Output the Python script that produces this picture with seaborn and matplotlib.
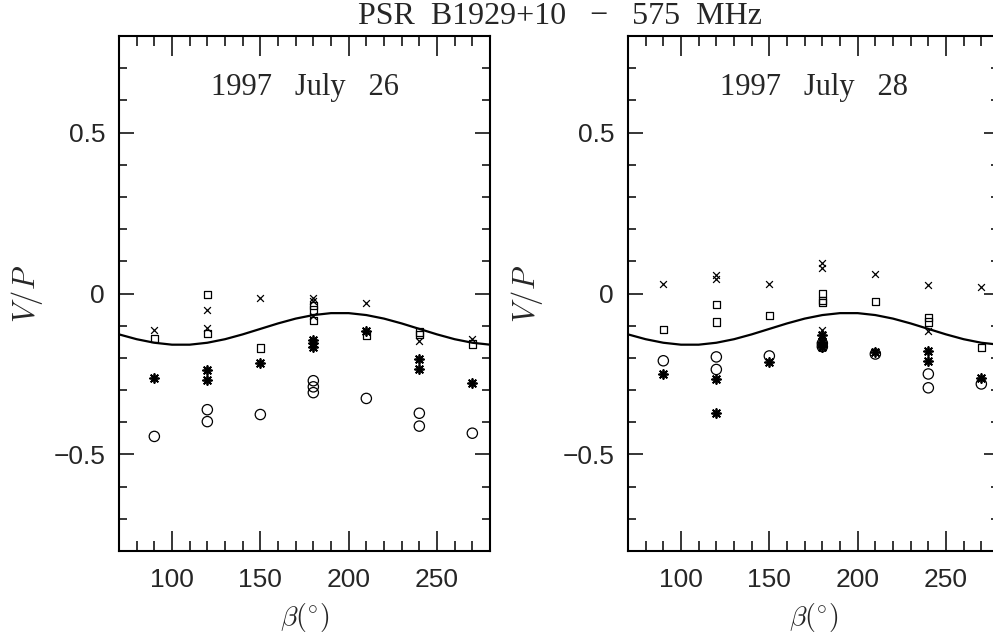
import matplotlib
matplotlib.use('Agg')
import matplotlib.pyplot as plt
from matplotlib.ticker import MultipleLocator
import seaborn as sns

# ── Data ──────────────────────────────────────────────────────────────────
# model curve, same in both panels
beta_curve = [70, 80, 90, 100, 110, 120, 130, 140, 150, 160, 170,
              180, 190, 200, 210, 220, 230, 240, 250, 260, 270, 280]
vp_curve = [-0.127, -0.142, -0.153, -0.159, -0.159, -0.153, -0.142, -0.127,
            -0.110, -0.093, -0.078, -0.067, -0.061, -0.061, -0.067, -0.078,
            -0.093, -0.110, -0.127, -0.142, -0.153, -0.159]

# 1997 July 26
jul26_cross_b = [90, 120, 120, 150, 180, 180, 180, 210, 240, 270]
jul26_cross_v = [-0.113, -0.050, -0.107, -0.013, -0.015, -0.024, -0.069, -0.029, -0.149, -0.141]
jul26_square_b = [90, 120, 120, 150, 180, 180, 180, 210, 240, 240, 270]
jul26_square_v = [-0.140, -0.004, -0.125, -0.169, -0.037, -0.051, -0.084, -0.129, -0.120, -0.128, -0.157]
jul26_star_b = [90, 120, 120, 150, 180, 180, 180, 210, 240, 240, 270]
jul26_star_v = [-0.263, -0.238, -0.270, -0.217, -0.146, -0.155, -0.165, -0.117, -0.204, -0.235, -0.278]
jul26_circle_b = [90, 120, 120, 150, 180, 180, 180, 210, 240, 240, 270]
jul26_circle_v = [-0.444, -0.361, -0.398, -0.376, -0.271, -0.290, -0.308, -0.326, -0.372, -0.412, -0.434]

# 1997 July 28
jul28_cross_b = [90, 120, 120, 150, 180, 180, 180, 210, 240, 240, 270]
jul28_cross_v = [0.028, 0.059, 0.044, 0.028, 0.094, 0.080, -0.113, 0.060, 0.027, -0.115, 0.021]
jul28_square_b = [90, 120, 120, 150, 180, 180, 180, 210, 240, 240, 270]
jul28_square_v = [-0.112, -0.035, -0.089, -0.069, 0.001, -0.022, -0.027, -0.025, -0.074, -0.089, -0.168]
jul28_star_b = [90, 120, 120, 150, 180, 180, 180, 210, 240, 240, 270]
jul28_star_v = [-0.250, -0.266, -0.371, -0.214, -0.129, -0.150, -0.165, -0.181, -0.178, -0.209, -0.261]
jul28_circle_b = [90, 120, 120, 150, 180, 180, 210, 240, 240, 270]
jul28_circle_v = [-0.209, -0.197, -0.236, -0.194, -0.155, -0.165, -0.188, -0.250, -0.293, -0.281]

ytick_vals = [-0.5, 0, 0.5]
ytick_labels = ['\u22120.5', '0', '0.5']
xtick_vals = [100, 150, 200, 250]
xtick_labels = ['100', '150', '200', '250']

# ── Style ─────────────────────────────────────────────────────────────────
sns.set_theme(style="ticks")
plt.rcParams['font.family'] = ['Liberation Sans', 'DejaVu Sans']
plt.rcParams['mathtext.fontset'] = 'cm'
plt.rcParams['axes.linewidth'] = 1.5

fig = plt.figure(figsize=(9.93, 6.38), dpi=100)
W, H = 993, 638
ax1 = fig.add_axes([119 / W, (H - 551) / H, 371 / W, 515 / H])
ax2 = fig.add_axes([628 / W, (H - 551) / H, 371 / W, 515 / H])


def draw_panel(ax, label, ylab_x, cross, square, star, circle):
    sns.lineplot(x=beta_curve, y=vp_curve, color='black', linewidth=1.6, ax=ax)
    sns.scatterplot(x=cross[0], y=cross[1], marker='x', s=24, color='black',
                    linewidth=0.9, ax=ax)
    sns.scatterplot(x=square[0], y=square[1], marker='s', s=28, facecolor='none',
                    edgecolor='black', linewidth=0.9, ax=ax)
    sns.scatterplot(x=star[0], y=star[1], marker=(8, 2, 0), s=42, color='black',
                    linewidth=1.3, ax=ax)
    sns.scatterplot(x=circle[0], y=circle[1], marker='o', s=55, facecolor='none',
                    edgecolor='black', linewidth=0.9, ax=ax)

    ax.set_xlim(70, 280)
    ax.set_ylim(-0.8, 0.8)
    ax.set_xticks(xtick_vals)
    ax.set_xticklabels(xtick_labels)
    ax.set_yticks(ytick_vals)
    ax.set_yticklabels(ytick_labels)
    ax.xaxis.set_minor_locator(MultipleLocator(10))
    ax.yaxis.set_minor_locator(MultipleLocator(0.1))
    ax.tick_params(which='both', direction='in', top=True, right=True,
                   width=1.1, color='black', labelsize=19)
    ax.tick_params(axis='x', which='major', length=14.5, pad=12)
    ax.tick_params(axis='x', which='minor', length=7.5)
    ax.tick_params(axis='y', which='major', length=11, pad=10)
    ax.tick_params(axis='y', which='minor', length=5.5)
    for sp in ax.spines.values():
        sp.set_color('black')

    ax.set_xlabel(r'$\beta(^{\circ})$', fontsize=20)
    ax.set_ylabel(r'$V/P$', fontsize=22)
    ax.xaxis.set_label_coords(0.5, -0.097)
    ax.yaxis.set_label_coords(ylab_x, 0.5)
    ax.text(0.5, 0.9, '1997   July   ' + label, transform=ax.transAxes,
            ha='center', va='center', family='Liberation Serif', fontsize=22)


draw_panel(ax1, '26', -0.2, (jul26_cross_b, jul26_cross_v), (jul26_square_b, jul26_square_v),
           (jul26_star_b, jul26_star_v), (jul26_circle_b, jul26_circle_v))
draw_panel(ax2, '28', -0.225, (jul28_cross_b, jul28_cross_v), (jul28_square_b, jul28_square_v),
           (jul28_star_b, jul28_star_v), (jul28_circle_b, jul28_circle_v))

fig.text(560 / W, 1 - 17 / H, 'PSR  B1929+10   \u2212   575  MHz', ha='center', va='center',
         family='Liberation Serif', fontsize=23)

fig.savefig('out.png', dpi=100)
plt.close(fig)
